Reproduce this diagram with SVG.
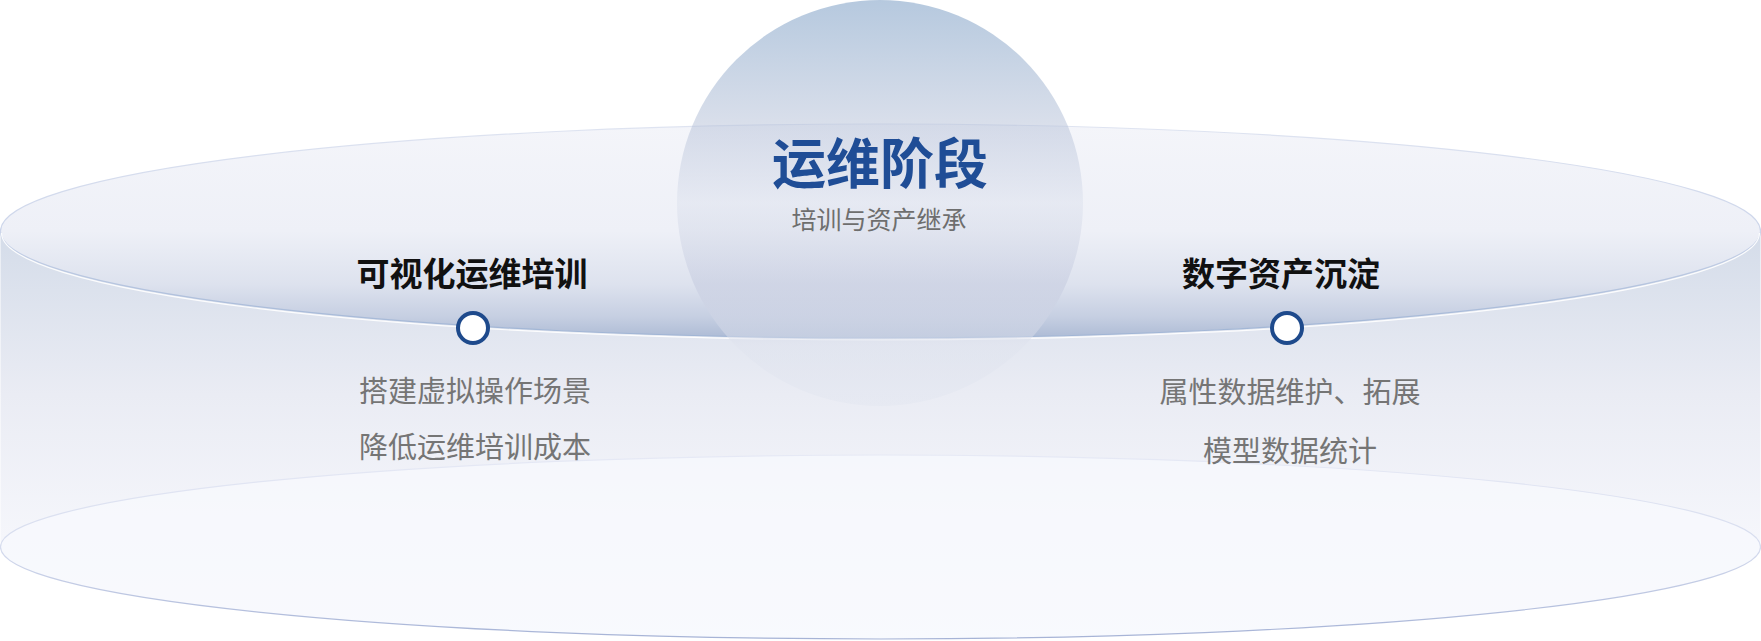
<svg xmlns="http://www.w3.org/2000/svg" width="1761" height="641" viewBox="0 0 1761 641">
  <defs>
    <linearGradient id="bodyG" gradientUnits="userSpaceOnUse" x1="0" y1="231" x2="0" y2="640">
      <stop offset="0" stop-color="#d4dce9"/>
      <stop offset="0.4" stop-color="#eaecf4"/>
      <stop offset="0.75" stop-color="#f5f6fb"/>
      <stop offset="1" stop-color="#f9fafd"/>
    </linearGradient>
    <linearGradient id="topG" gradientUnits="userSpaceOnUse" x1="0" y1="124" x2="0" y2="338">
      <stop offset="0" stop-color="#f4f5fa"/>
      <stop offset="0.5" stop-color="#eef0f7"/>
      <stop offset="0.75" stop-color="#dde2ee"/>
      <stop offset="0.9" stop-color="#c6cfe2"/>
      <stop offset="1" stop-color="#adbbd5"/>
    </linearGradient>
    <linearGradient id="topS" gradientUnits="userSpaceOnUse" x1="0" y1="124" x2="0" y2="338">
      <stop offset="0" stop-color="#dfe4f1"/>
      <stop offset="0.5" stop-color="#ccd5ea"/>
      <stop offset="1" stop-color="#9fb4d4"/>
    </linearGradient>
    <linearGradient id="botS" gradientUnits="userSpaceOnUse" x1="0" y1="455" x2="0" y2="639">
      <stop offset="0" stop-color="#e6e9f5"/>
      <stop offset="0.5" stop-color="#d6dcee"/>
      <stop offset="1" stop-color="#a6b3d6"/>
    </linearGradient>
    <linearGradient id="circG" gradientUnits="userSpaceOnUse" x1="0" y1="0" x2="0" y2="406">
      <stop offset="0" stop-color="#6d93be"/>
      <stop offset="0.3" stop-color="#b2bed6"/>
      <stop offset="0.5" stop-color="#dce1ed"/>
      <stop offset="0.7" stop-color="#c2c8dd"/>
      <stop offset="0.85" stop-color="#dfe3ee"/>
      <stop offset="1" stop-color="#e2e6f0"/>
    </linearGradient>
    <style>
      .t { font-family: "Noto Sans CJK SC", "Noto Sans", sans-serif; text-anchor: middle; }
      .title { font-size: 54px; font-weight: 700; fill: #1f4d96; }
      .sub { font-size: 25px; fill: #6e6e6e; }
      .head { font-size: 33px; font-weight: 700; fill: #111111; }
      .item { font-size: 29px; fill: #757575; }
      .dot { fill: #ffffff; stroke: #1e4a8c; stroke-width: 4; }
    </style>
  </defs>

  <g id="cylinder">
    <path d="M0.5,231 L0.5,547 A880,92 0 0 0 1760.5,547 L1760.5,231 Z" fill="url(#bodyG)"/>
    <ellipse cx="880.5" cy="547" rx="880" ry="92" fill="#f8f9fd" fill-opacity="0.7" stroke="url(#botS)" stroke-width="1.2"/>
    <ellipse cx="880.5" cy="231" rx="880" ry="107" fill="url(#topG)" stroke="url(#topS)" stroke-width="1.2"/>
    <path d="M1.5,233 A879,107 0 0 0 1759.5,233" fill="none" stroke="#ffffff" stroke-width="1.2" stroke-opacity="0.9"/>
  </g>

  <g id="center">
    <circle cx="880" cy="203" r="203" fill="url(#circG)" fill-opacity="0.5"/>
    <text class="t title" x="880" y="184">运维阶段</text>
    <text class="t sub" x="879" y="229">培训与资产继承</text>
  </g>

  <g id="left">
    <text class="t head" x="472" y="286">可视化运维培训</text>
    <circle class="dot" cx="473" cy="328" r="15"/>
    <text class="t item" x="475" y="402">搭建虚拟操作场景</text>
    <text class="t item" x="475" y="458">降低运维培训成本</text>
  </g>

  <g id="right">
    <text class="t head" x="1281" y="286">数字资产沉淀</text>
    <circle class="dot" cx="1287" cy="328" r="15"/>
    <text class="t item" x="1290" y="403">属性数据维护、拓展</text>
    <text class="t item" x="1290" y="462">模型数据统计</text>
  </g>

  <g id="connectors"></g>
</svg>
